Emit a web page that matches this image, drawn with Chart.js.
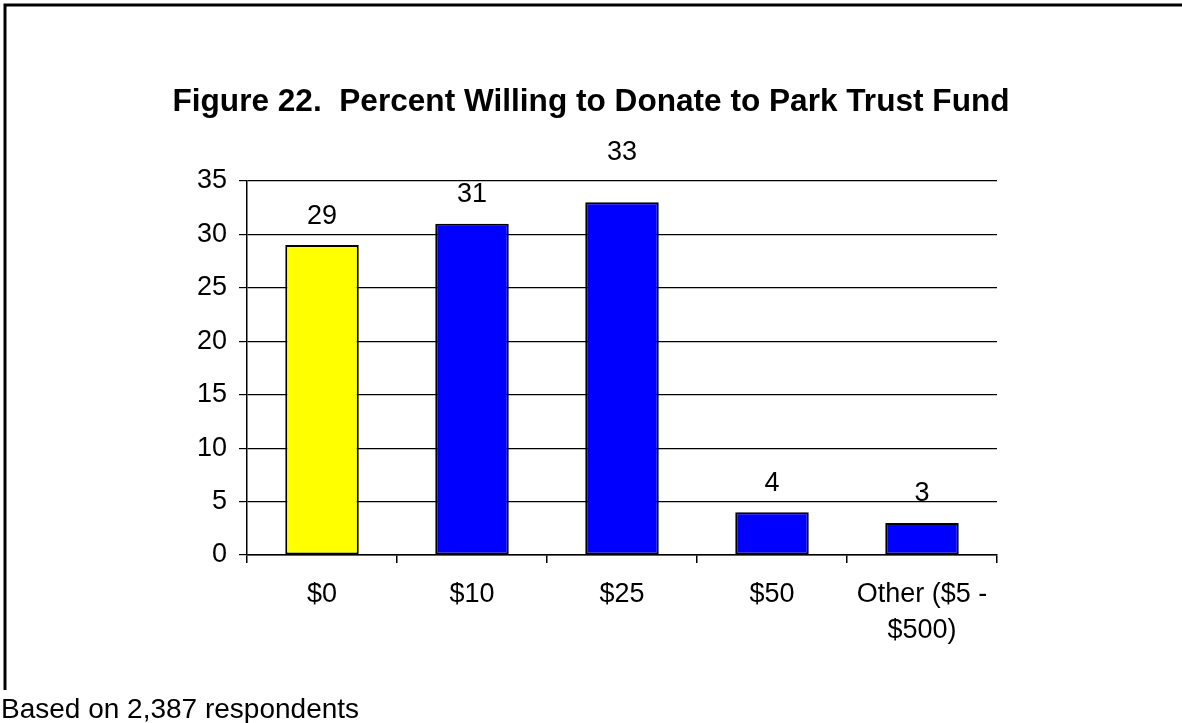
<!DOCTYPE html>
<html>
<head>
<meta charset="utf-8">
<title>Figure 22</title>
<script src="https://cdn.jsdelivr.net/npm/chart.js@4/dist/chart.umd.min.js"></script>
<style>
  html, body { margin: 0; padding: 0; background: #fff; }
  canvas { display: block; }
</style>
</head>
<body>
<canvas id="donateChart" width="1182" height="723"></canvas>
<script>
// categories and percentages
const categories = ['$0', '$10', '$25', '$50', ['Other ($5 -', '$500)']];
const percentWilling = [29, 31, 33, 4, 3];
const barColors = ['#ffff00', '#0000ff', '#0000ff', '#0000ff', '#0000ff'];
const yTicks = [0, 5, 10, 15, 20, 25, 30, 35];

const titleText = 'Figure 22.  Percent Willing to Donate to Park Trust Fund';
const footerText = 'Based on 2,387 respondents';

const FONT = '"Liberation Sans", Arial, sans-serif';
const bodySize = 27;

// frame, title, footer and value labels
const decorations = {
    id: 'decorations',
    beforeDraw(chart) {
        const ctx = chart.ctx;
        ctx.save();
        ctx.fillStyle = '#fff';
        ctx.fillRect(0, 0, chart.width, chart.height);
        ctx.strokeStyle = '#000';
        ctx.lineWidth = 3;
        ctx.beginPath();
        ctx.moveTo(5, 690);
        ctx.lineTo(5, 5);
        ctx.lineTo(chart.width, 5);
        ctx.stroke();

        ctx.fillStyle = '#000';
        ctx.font = 'bold 31.6px ' + FONT;
        ctx.textAlign = 'center';
        ctx.textBaseline = 'middle';
        ctx.fillText(titleText, 591, 102);

        ctx.font = '28px ' + FONT;
        ctx.textAlign = 'left';
        ctx.fillText(footerText, 1, 710);
        ctx.restore();
    },
    afterDatasetsDraw(chart) {
        const ctx = chart.ctx;
        const top = chart.chartArea.top;
        ctx.save();
        ctx.fillStyle = '#000';
        ctx.font = bodySize + 'px ' + FONT;
        ctx.textAlign = 'center';
        ctx.textBaseline = 'middle';
        chart.getDatasetMeta(0).data.forEach((bar, i) => {
            let y = bar.y - 29;
            // a label that would sit on the top gridline goes above the plot
            if (y - 13 < top && y + 13 > top) y = top - 28;
            ctx.fillText(String(percentWilling[i]), bar.x, y);
        });
        ctx.restore();
    }
};

new Chart(document.getElementById('donateChart'), {
    type: 'bar',
    data: {
        labels: categories,
        datasets: [{
            data: percentWilling,
            backgroundColor: barColors,
            borderColor: '#000',
            borderWidth: 2,
            borderSkipped: false,
            categoryPercentage: 1,
            barPercentage: 0.49
        }]
    },
    options: {
        responsive: false,
        animation: false,
        devicePixelRatio: 1,
        layout: {
            padding: { left: 20, right: 185, top: 181, bottom: 20 }
        },
        plugins: {
            legend: { display: false },
            tooltip: { enabled: false },
            title: { display: false }
        },
        scales: {
            x: {
                afterFit: (s) => { s.height = 723 - 555 - 20; },
                grid: {
                    display: true,
                    offset: true,
                    drawOnChartArea: false,
                    drawTicks: true,
                    tickLength: 8,
                    color: '#000',
                    lineWidth: 1.5
                },
                border: { display: true, color: '#000', width: 1.5 },
                ticks: {
                    color: '#000',
                    padding: 13,
                    maxRotation: 0,
                    autoSkip: false,
                    font: { family: FONT, size: bodySize, lineHeight: 1.35 }
                }
            },
            y: {
                min: yTicks[0],
                max: yTicks[yTicks.length - 1],
                afterFit: (s) => { s.width = 247 - 20; },
                afterBuildTicks: (s) => { s.ticks = yTicks.map(v => ({ value: v })); },
                grid: {
                    color: '#000',
                    lineWidth: 1.2,
                    drawTicks: true,
                    tickLength: 8
                },
                border: { display: true, color: '#000', width: 1.5 },
                ticks: {
                    color: '#000',
                    padding: 12,
                    font: { family: FONT, size: bodySize }
                }
            }
        }
    },
    plugins: [decorations]
});
</script>
</body>
</html>
